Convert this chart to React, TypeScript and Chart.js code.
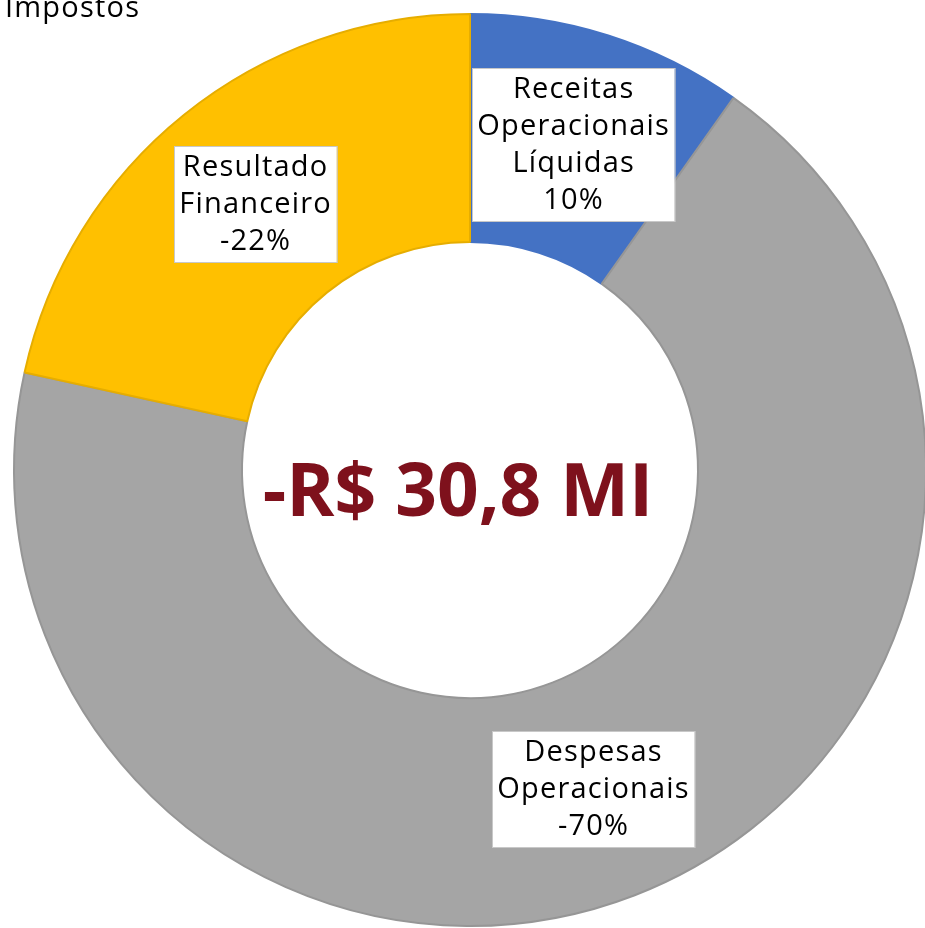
import React, { useEffect, useRef } from "react";
import { Chart, registerables } from "chart.js";
Chart.register(...registerables);

const categories = ["Receitas Operacionais Líquidas", "Despesas Operacionais", "Resultado Financeiro", "Impostos"];
const labelLines = [["Receitas", "Operacionais", "Líquidas"], ["Despesas", "Operacionais"], ["Resultado", "Financeiro"], ["Impostos"]];
const shareValues = [10, 70, 22, 0];
const percentLabels = ["10%", "-70%", "-22%", ""];
const centerText = "-R$ 30,8 MI";
const sliceColors = ["#4472C4", "#A5A5A5", "#FFC000", "#5B9BD5"];
const sliceBorders = ["#4472C4", "#969696", "#E6AD00", "#5B9BD5"];

const FONT = "'Open Sans', 'Noto Sans', sans-serif";

const labelPlugin = {
  id: "boxLabels",
  afterDatasetsDraw(chart: any) {
    const ctx = chart.ctx as any;
    const meta = chart.getDatasetMeta(0);
    ctx.save();
    ctx.font = `29px ${FONT}`;
    ctx.letterSpacing = "1.2px";
    const lh = 37;
    meta.data.forEach((arc: any, i: number) => {
      if (shareValues[i] <= 0) return;
      const lines = [...labelLines[i], percentLabels[i]];
      const p = arc.tooltipPosition();
      const w = Math.max(...lines.map((l) => ctx.measureText(l).width)) + 10;
      const h = lines.length * lh + 5;
      const x0 = Math.round(p.x - w / 2);
      const y0 = Math.round(p.y - h / 2);
      ctx.fillStyle = "#ffffff";
      ctx.fillRect(x0, y0, w, h);
      ctx.strokeStyle = "#c8c8c8";
      ctx.lineWidth = 1;
      ctx.strokeRect(x0 + 0.5, y0 + 0.5, w, h);
      ctx.fillStyle = "#000000";
      ctx.textAlign = "center";
      ctx.textBaseline = "middle";
      lines.forEach((l, k) => ctx.fillText(l, p.x, y0 + 3 + lh * (k + 0.5)));
    });
    const ca = chart.chartArea;
    ctx.textAlign = "left";
    ctx.textBaseline = "alphabetic";
    ctx.fillStyle = "#000000";
    ctx.fillText(labelLines[3][0], ca.left - 8, ca.top + 4);

    const cx = (ca.left + ca.right) / 2;
    const cy = (ca.top + ca.bottom) / 2;
    ctx.letterSpacing = "0px";
    ctx.font = `bold 73px ${FONT}`;
    ctx.fillStyle = "#7E111C";
    ctx.textAlign = "center";
    ctx.textBaseline = "middle";
    ctx.fillText(centerText, cx - 12, cy + 25);
    ctx.restore();
  },
};

export default function App() {
  const ref = useRef<HTMLCanvasElement>(null);
  useEffect(() => {
    if (!ref.current) return;
    const chart = new Chart(ref.current, {
      type: "doughnut",
      data: {
        labels: categories,
        datasets: [
          {
            data: shareValues,
            backgroundColor: sliceColors,
            borderColor: sliceBorders,
            borderWidth: 2,
          },
        ],
      },
      options: {
        responsive: false,
        animation: false,
        cutout: "50%",
        layout: { padding: 13 },
        plugins: { legend: { display: false }, tooltip: { enabled: false } },
      },
      plugins: [labelPlugin],
    });
    return () => chart.destroy();
  }, []);
  return (
    <div style={{ position: "fixed", left: 0, top: 0, width: 925, height: 928, overflow: "hidden", background: "#fff" }}>
      <canvas ref={ref} width={940} height={940} style={{ display: "block" }} />
    </div>
  );
}
